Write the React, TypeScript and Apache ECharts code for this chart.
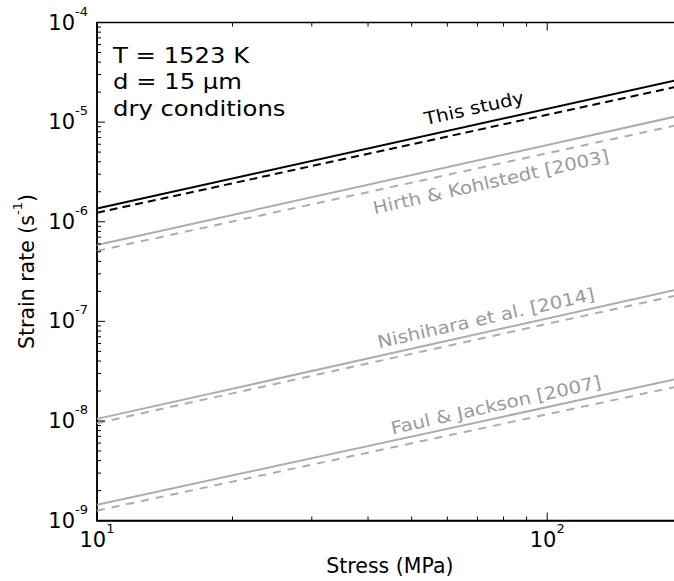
import React, { useEffect, useRef } from "react";
import * as echarts from "echarts";

// Stress end points (MPa)
const stress = [10, 200];
// Strain rates (1/s) at the stress end points
const thisStudySolid = [1.36e-6, 2.72e-5];
const thisStudyDashed = [1.23e-6, 2.34e-5];
const hirthSolid = [5.85e-7, 1.18e-5];
const hirthDashed = [5.1e-7, 9.6e-6];
const nishiharaSolid = [1.05e-8, 2.15e-7];
const nishiharaDashed = [9.5e-9, 1.88e-7];
const faulSolid = [1.44e-9, 2.72e-8];
const faulDashed = [1.26e-9, 2.28e-8];

const xMin = 10;
const xMax = 200;
const yMin = 1e-9;
const yMax = 1e-4;

const xMajorTicks = [10, 100];
const xMinorTicks = [20, 30, 40, 50, 60, 70, 80, 90, 200];
const yDecades = [-9, -8, -7, -6, -5, -4];
const minorMultipliers = [2, 3, 4, 5, 6, 7, 8, 9];

const annotationLines = ["T = 1523 K", "d = 15 µm", "dry conditions"];
const lineLabels = [
  { text: "This study", x: 474, y: 108, color: "#000000" },
  { text: "Hirth & Kohlstedt [2003]", x: 491, y: 182, color: "#9a9a9a" },
  { text: "Nishihara et al. [2014]", x: 486, y: 318, color: "#9a9a9a" },
  { text: "Faul & Jackson [2007]", x: 496, y: 405, color: "#9a9a9a" },
];

const FONT = "DejaVu Sans";
const CHART_W = 700;

function powLabel(v: number) {
  const l = Math.log10(v);
  const e = Math.round(l);
  if (Math.abs(l - e) > 1e-6) return "";
  return `{b|10}{s|${e}}`;
}

const labelRich = {
  b: { fontSize: 21, fontFamily: FONT, color: "#000", lineHeight: 36, verticalAlign: "middle" },
  s: { fontSize: 13, fontFamily: FONT, color: "#000", lineHeight: 13, verticalAlign: "top" },
};

export default function App() {
  const ref = useRef<HTMLDivElement>(null);
  useEffect(() => {
    if (!ref.current) return;
    const chart = echarts.init(ref.current, null, { renderer: "svg" });

    const tickData: number[][] = [];
    xMajorTicks.forEach((v) => tickData.push([v, yMin, 0, 8]));
    xMinorTicks.forEach((v) => tickData.push([v, yMin, 0, 4]));
    yDecades.forEach((d) => {
      tickData.push([xMin, Math.pow(10, d), 1, 8]);
      if (d < -4) minorMultipliers.forEach((m) => tickData.push([xMin, m * Math.pow(10, d), 1, 4]));
    });

    const mk = (name: string, vals: number[], color: string, dashed: boolean, z: number) => ({
      name,
      type: "line",
      data: stress.map((s, i) => [s, vals[i]]),
      symbol: "none",
      showSymbol: false,
      z,
      lineStyle: {
        color,
        width: 2,
        type: dashed ? (color === "#000000" ? [8, 5] : [8, 7]) : "solid",
      },
    });

    const option: any = {
      animation: false,
      backgroundColor: "#ffffff",
      grid: {
        left: 97,
        right: CHART_W - 682.7,
        top: 22.5,
        bottom: 54,
        show: true,
        borderColor: "#000",
        borderWidth: 1.5,
        backgroundColor: "transparent",
      },
      xAxis: {
        type: "log",
        logBase: 10,
        min: xMin,
        max: xMax,
        name: "Stress (MPa)",
        nameLocation: "middle",
        nameGap: 28,
        nameTextStyle: { fontSize: 20.5, fontFamily: FONT, color: "#000" },
        axisLine: { show: true, onZero: false, lineStyle: { color: "#000", width: 1.5 } },
        axisTick: { show: false },
        minorTick: { show: false },
        splitLine: { show: false },
        axisLabel: { formatter: powLabel, rich: labelRich, margin: 1 },
      },
      yAxis: {
        type: "log",
        logBase: 10,
        min: yMin,
        max: yMax,
        name: "{n|Strain rate (s}{s|-1}{n|)}",
        nameLocation: "middle",
        nameGap: 57,
        nameTextStyle: {
          rich: {
            n: { fontSize: 20.5, fontFamily: FONT, color: "#000", lineHeight: 26, verticalAlign: "bottom" },
            s: { fontSize: 13, fontFamily: FONT, color: "#000", lineHeight: 13, verticalAlign: "top" },
          },
        },
        axisLine: { show: true, onZero: false, lineStyle: { color: "#000", width: 1.5 } },
        axisTick: { show: false },
        minorTick: { show: false },
        splitLine: { show: false },
        axisLabel: { formatter: powLabel, rich: labelRich, margin: 9 },
      },
      series: [
        mk("Faul solid", faulSolid, "#adadad", false, 2),
        mk("Faul dashed", faulDashed, "#adadad", true, 2),
        mk("Nishihara solid", nishiharaSolid, "#adadad", false, 2),
        mk("Nishihara dashed", nishiharaDashed, "#adadad", true, 2),
        mk("Hirth solid", hirthSolid, "#adadad", false, 2),
        mk("Hirth dashed", hirthDashed, "#adadad", true, 2),
        mk("This study solid", thisStudySolid, "#000000", false, 3),
        mk("This study dashed", thisStudyDashed, "#000000", true, 3),
        {
          type: "custom",
          name: "ticks",
          silent: true,
          clip: false,
          z: 10,
          encode: { x: 0, y: 1 },
          data: tickData,
          renderItem: (params: any, api: any) => {
            const cs = params.coordSys;
            const kind = api.value(2);
            const len = api.value(3);
            const st = { stroke: "#000", lineWidth: 1 };
            if (kind === 0) {
              const px = api.coord([api.value(0), yMin])[0];
              const yb = cs.y + cs.height;
              return {
                type: "group",
                children: [
                  { type: "line", shape: { x1: px, y1: yb, x2: px, y2: yb - len }, style: st },
                  { type: "line", shape: { x1: px, y1: cs.y, x2: px, y2: cs.y + len }, style: st },
                ],
              };
            }
            const py = api.coord([xMin, api.value(1)])[1];
            return {
              type: "group",
              children: [
                { type: "line", shape: { x1: cs.x, y1: py, x2: cs.x + len, y2: py }, style: st },
                {
                  type: "line",
                  shape: { x1: cs.x + cs.width, y1: py, x2: cs.x + cs.width - len, y2: py },
                  style: st,
                },
              ],
            };
          },
        },
      ],
      graphic: [
        {
          type: "text",
          x: 113,
          y: 42,
          scaleX: 1.13,
          style: {
            text: annotationLines.join("\n"),
            fontSize: 21.5,
            fontFamily: FONT,
            lineHeight: 26.5,
            fill: "#000",
            align: "left",
            verticalAlign: "top",
          },
        },
        ...lineLabels.map((l) => ({
          type: "text",
          x: l.x,
          y: l.y,
          rotation: 0.22,
          scaleX: 1.13,
          style: {
            text: l.text,
            fontSize: 17.5,
            fontFamily: FONT,
            fill: l.color,
            align: "center",
            verticalAlign: "middle",
          },
        })),
      ],
    };
    chart.setOption(option);
    return () => chart.dispose();
  }, []);
  return (
    <div
      style={{
        position: "fixed",
        left: 0,
        top: 0,
        width: 674,
        height: 581,
        overflow: "hidden",
        background: "#fff",
      }}
    >
      <div ref={ref} style={{ width: CHART_W, height: 581 }} />
    </div>
  );
}
